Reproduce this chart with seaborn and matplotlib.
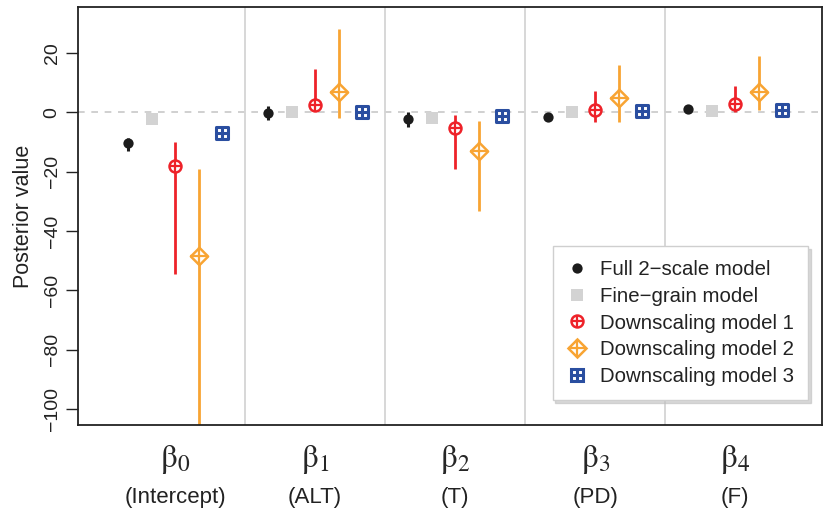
import matplotlib
matplotlib.use("Agg")
import matplotlib.pyplot as plt
import matplotlib.transforms as mtransforms
from matplotlib.lines import Line2D
import seaborn as sns
import pandas as pd
import numpy as np

# ---------------- data ----------------
params = ["β0", "β1", "β2", "β3", "β4"]
param_tex = [r"$\mathrm{\beta}_{0}$", r"$\mathrm{\beta}_{1}$", r"$\mathrm{\beta}_{2}$",
             r"$\mathrm{\beta}_{3}$", r"$\mathrm{\beta}_{4}$"]
param_desc = ["(Intercept)", "(ALT)", "(T)", "(PD)", "(F)"]
models = ["Full 2\u2212scale model", "Fine\u2212grain model",
          "Downscaling model 1", "Downscaling model 2", "Downscaling model 3"]

full_mean = [-10.4, -0.2, -2.4, -1.5, 1.0]
full_lo = [-12.9, -2.5, -5.1, -2.1, 0.4]
full_hi = [-8.7, 2.0, 0.2, -0.9, 1.6]

fine_mean = [-2.3, 0.1, -1.9, 0.0, 0.4]
fine_lo = [-2.8, -0.3, -2.4, -0.4, 0.0]
fine_hi = [-1.8, 0.5, -1.4, 0.4, 0.8]

ds1_mean = [-18.1, 2.4, -5.4, 0.8, 2.8]
ds1_lo = [-54.4, 0.7, -19.1, -3.4, 0.2]
ds1_hi = [-10.0, 14.7, -0.8, 7.3, 9.0]

ds2_mean = [-48.4, 6.8, -13.2, 4.7, 6.7]
ds2_lo = [-120.0, -1.8, -33.4, -3.4, 0.8]
ds2_hi = [-19.1, 27.9, -3.0, 15.9, 19.0]

ds3_mean = [-7.1, 0.1, -1.3, 0.5, 0.8]
ds3_lo = [-7.5, -0.3, -1.7, 0.1, 0.4]
ds3_hi = [-6.7, 0.5, -0.9, 0.9, 1.2]

yticks = [-100, -80, -60, -40, -20, 0, 20]

# ---------------- build table ----------------
means = [full_mean, fine_mean, ds1_mean, ds2_mean, ds3_mean]
los = [full_lo, fine_lo, ds1_lo, ds2_lo, ds3_lo]
his = [full_hi, fine_hi, ds1_hi, ds2_hi, ds3_hi]
offsets = [-0.336, -0.168, 0.0, 0.168, 0.336]

rows = []
for mi, m in enumerate(models):
    for pi, p in enumerate(params):
        rows.append(dict(model=m, param=p, x=pi + 1 + offsets[mi],
                         mean=means[mi][pi], lo=los[mi][pi], hi=his[mi][pi]))
df = pd.DataFrame(rows)

# ---------------- style ----------------
sns.set_theme(style="white")
plt.rcParams["font.family"] = ["Liberation Sans", "DejaVu Sans"]
plt.rcParams["mathtext.fontset"] = "stix"
plt.rcParams["axes.unicode_minus"] = True

colors = {models[0]: "#1c1c1c", models[1]: "#d3d3d3", models[2]: "#ee2229",
          models[3]: "#f8a433", models[4]: "#2a4ea0"}

fig = plt.figure(figsize=(8.23, 5.12), dpi=100)
ax = fig.add_axes([0.0948, 0.170, 0.9040, 0.8155])

# background reference lines
ax.axhline(0, color="#c8c8c8", lw=1.2, ls=(0, (4, 4)), zorder=0)
for b in [1.5, 2.5, 3.5, 4.5]:
    ax.axvline(b, color="#d4d4d4", lw=1.3, zorder=0)

# interval bars
bar_lw = {models[0]: 2.2, models[1]: 2.2, models[2]: 2.0, models[3]: 2.0, models[4]: 2.0}
for m in models:
    sub = df[df.model == m]
    ax.vlines(sub.x, sub.lo, sub.hi, color=colors[m], lw=bar_lw[m], zorder=2)

# points
sub = df[df.model == models[0]]
sns.scatterplot(data=sub, x="x", y="mean", ax=ax, marker="o", s=7.4 ** 2,
                color=colors[models[0]], edgecolor=colors[models[0]], linewidth=0,
                zorder=3, legend=False)
sub = df[df.model == models[1]]
sns.scatterplot(data=sub, x="x", y="mean", ax=ax, marker="s", s=8.4 ** 2,
                color=colors[models[1]], edgecolor=colors[models[1]], linewidth=0,
                zorder=3, legend=False)
# DS1: circle with plus
sub = df[df.model == models[2]]
sns.scatterplot(data=sub, x="x", y="mean", ax=ax, marker="o", s=8.6 ** 2,
                facecolor="white", edgecolor=colors[models[2]], linewidth=1.8,
                zorder=3, legend=False)
sns.scatterplot(data=sub, x="x", y="mean", ax=ax, marker="+", s=8.6 ** 2,
                color=colors[models[2]], linewidth=1.6, zorder=4, legend=False)
# DS2: diamond with plus
sub = df[df.model == models[3]]
sns.scatterplot(data=sub, x="x", y="mean", ax=ax, marker="D", s=8.8 ** 2,
                facecolor="white", edgecolor=colors[models[3]], linewidth=1.8,
                zorder=3, legend=False)
sns.scatterplot(data=sub, x="x", y="mean", ax=ax, marker="+", s=12.4 ** 2,
                color=colors[models[3]], linewidth=1.6, zorder=4, legend=False)
# DS3: square with plus
sub = df[df.model == models[4]]
sns.scatterplot(data=sub, x="x", y="mean", ax=ax, marker="s", s=8.4 ** 2,
                facecolor="white", edgecolor=colors[models[4]], linewidth=2.2,
                zorder=3, legend=False)
sns.scatterplot(data=sub, x="x", y="mean", ax=ax, marker="+", s=8.4 ** 2,
                color=colors[models[4]], linewidth=2.2, zorder=4, legend=False)

# ---------------- axes ----------------
ax.set_xlim(0.307, 5.62)
ax.set_ylim(-105.3, 35.3)
ax.set_yticks(yticks)
ax.set_yticklabels([f"{v:d}".replace("-", "\u2212") for v in yticks])
ax.tick_params(axis="y", direction="out", length=8.5, width=1.0, pad=4,
               labelsize=14, colors="#222222", left=True)
for lab in ax.get_yticklabels():
    lab.set_rotation(90)
    lab.set_va("center")
ax.set_xticks(range(1, 6))
ax.set_xticklabels(param_tex, fontsize=24)
ax.tick_params(axis="x", length=0, pad=13)
ax.set_xlabel("")
ax.set_ylabel("Posterior value", fontsize=15.5, labelpad=7, color="#222222")
for sp in ax.spines.values():
    sp.set_visible(True)
    sp.set_color("#222222")
    sp.set_linewidth(1.3)

trans = mtransforms.blended_transform_factory(ax.transData, ax.transAxes)
for i, d in enumerate(param_desc):
    ax.text(i + 1, -0.173, d, transform=trans, ha="center", va="center",
            fontsize=16, color="#222222")

# ---------------- legend ----------------
handles = [
    Line2D([], [], ls="none", marker="o", ms=7.4, mfc=colors[models[0]], mec=colors[models[0]], mew=0),
    Line2D([], [], ls="none", marker="s", ms=8.4, mfc=colors[models[1]], mec=colors[models[1]], mew=0),
    (Line2D([], [], ls="none", marker="o", ms=8.6, mfc="white", mec=colors[models[2]], mew=1.8),
     Line2D([], [], ls="none", marker="+", ms=8.6, mec=colors[models[2]], mew=1.6)),
    (Line2D([], [], ls="none", marker="D", ms=8.8, mfc="white", mec=colors[models[3]], mew=1.8),
     Line2D([], [], ls="none", marker="+", ms=12.4, mec=colors[models[3]], mew=1.6)),
    (Line2D([], [], ls="none", marker="s", ms=8.4, mfc="white", mec=colors[models[4]], mew=2.2),
     Line2D([], [], ls="none", marker="+", ms=8.4, mec=colors[models[4]], mew=2.2)),
]
leg = ax.legend(handles, models, loc="upper right", bbox_to_anchor=(0.981, 0.429),
                fontsize=14.7, frameon=True, fancybox=False,
                shadow={"color": "0.75", "alpha": 0.6},
                borderpad=0.7, labelspacing=0.38, handlelength=1.0, handletextpad=0.6,
                borderaxespad=0)
leg.get_frame().set_edgecolor("#cfcfcf")
leg.get_frame().set_linewidth(1.0)
for t in leg.get_texts():
    t.set_color("#222222")
leg.set_zorder(10)

fig.savefig("out.png", dpi=100)
